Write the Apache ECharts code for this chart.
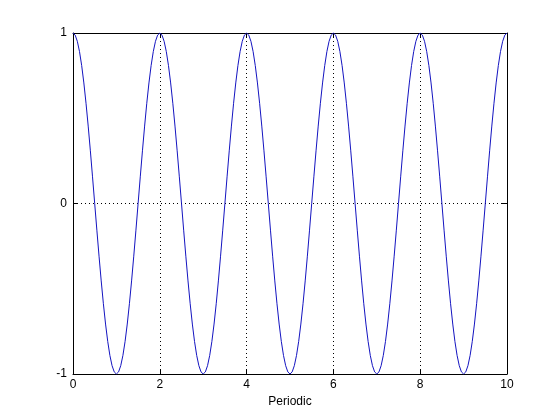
<!DOCTYPE html>
<html>
<head>
<meta charset="utf-8">
<script src="https://cdn.jsdelivr.net/npm/echarts@6/dist/echarts.min.js"></script>
<style>html,body{margin:0;padding:0;background:#fff}#c{width:560px;height:420px}</style>
</head>
<body>
<div id="c"></div>
<script>
var xs = [0,0.05,0.1,0.15,0.2,0.25,0.3,0.35,0.4,0.45,0.5,0.55,0.6,0.65,0.7,0.75,0.8,0.85,0.9,0.95,
1,1.05,1.1,1.15,1.2,1.25,1.3,1.35,1.4,1.45,1.5,1.55,1.6,1.65,1.7,1.75,1.8,1.85,1.9,1.95,
2,2.05,2.1,2.15,2.2,2.25,2.3,2.35,2.4,2.45,2.5,2.55,2.6,2.65,2.7,2.75,2.8,2.85,2.9,2.95,
3,3.05,3.1,3.15,3.2,3.25,3.3,3.35,3.4,3.45,3.5,3.55,3.6,3.65,3.7,3.75,3.8,3.85,3.9,3.95,
4,4.05,4.1,4.15,4.2,4.25,4.3,4.35,4.4,4.45,4.5,4.55,4.6,4.65,4.7,4.75,4.8,4.85,4.9,4.95,
5,5.05,5.1,5.15,5.2,5.25,5.3,5.35,5.4,5.45,5.5,5.55,5.6,5.65,5.7,5.75,5.8,5.85,5.9,5.95,
6,6.05,6.1,6.15,6.2,6.25,6.3,6.35,6.4,6.45,6.5,6.55,6.6,6.65,6.7,6.75,6.8,6.85,6.9,6.95,
7,7.05,7.1,7.15,7.2,7.25,7.3,7.35,7.4,7.45,7.5,7.55,7.6,7.65,7.7,7.75,7.8,7.85,7.9,7.95,
8,8.05,8.1,8.15,8.2,8.25,8.3,8.35,8.4,8.45,8.5,8.55,8.6,8.65,8.7,8.75,8.8,8.85,8.9,8.95,
9,9.05,9.1,9.15,9.2,9.25,9.3,9.35,9.4,9.45,9.5,9.55,9.6,9.65,9.7,9.75,9.8,9.85,9.9,9.95,10];

var ys = [1,0.9877,0.9511,0.891,0.809,0.7071,0.5878,0.454,0.309,0.1564,0,-0.1564,-0.309,-0.454,-0.5878,-0.7071,-0.809,-0.891,-0.9511,-0.9877,
-1,-0.9877,-0.9511,-0.891,-0.809,-0.7071,-0.5878,-0.454,-0.309,-0.1564,0,0.1564,0.309,0.454,0.5878,0.7071,0.809,0.891,0.9511,0.9877,
1,0.9877,0.9511,0.891,0.809,0.7071,0.5878,0.454,0.309,0.1564,0,-0.1564,-0.309,-0.454,-0.5878,-0.7071,-0.809,-0.891,-0.9511,-0.9877,
-1,-0.9877,-0.9511,-0.891,-0.809,-0.7071,-0.5878,-0.454,-0.309,-0.1564,0,0.1564,0.309,0.454,0.5878,0.7071,0.809,0.891,0.9511,0.9877,
1,0.9877,0.9511,0.891,0.809,0.7071,0.5878,0.454,0.309,0.1564,0,-0.1564,-0.309,-0.454,-0.5878,-0.7071,-0.809,-0.891,-0.9511,-0.9877,
-1,-0.9877,-0.9511,-0.891,-0.809,-0.7071,-0.5878,-0.454,-0.309,-0.1564,0,0.1564,0.309,0.454,0.5878,0.7071,0.809,0.891,0.9511,0.9877,
1,0.9877,0.9511,0.891,0.809,0.7071,0.5878,0.454,0.309,0.1564,0,-0.1564,-0.309,-0.454,-0.5878,-0.7071,-0.809,-0.891,-0.9511,-0.9877,
-1,-0.9877,-0.9511,-0.891,-0.809,-0.7071,-0.5878,-0.454,-0.309,-0.1564,0,0.1564,0.309,0.454,0.5878,0.7071,0.809,0.891,0.9511,0.9877,
1,0.9877,0.9511,0.891,0.809,0.7071,0.5878,0.454,0.309,0.1564,0,-0.1564,-0.309,-0.454,-0.5878,-0.7071,-0.809,-0.891,-0.9511,-0.9877,
-1,-0.9877,-0.9511,-0.891,-0.809,-0.7071,-0.5878,-0.454,-0.309,-0.1564,0,0.1564,0.309,0.454,0.5878,0.7071,0.809,0.891,0.9511,0.9877,1];

var xTicks = [0, 2, 4, 6, 8, 10];
var yTicks = [-1, 0, 1];
var xLabel = 'Periodic';

var font = 'Liberation Sans, Arial, Helvetica, sans-serif';
var pts = xs.map(function (x, i) { return [x, ys[i]]; });

var chart = echarts.init(document.getElementById('c'), null, {renderer: 'canvas'});
var axisBase = {
  type: 'value',
  axisLine: {show: true, onZero: false, lineStyle: {color: '#000', width: 1}},
  axisTick: {show: true, inside: true, length: 5, lineStyle: {color: '#000'}},
  splitLine: {show: false}
};
chart.setOption({
  animation: false,
  backgroundColor: '#fff',
  grid: {left: 73, right: 53, top: 33, bottom: 46, containLabel: false},
  xAxis: [
    Object.assign({}, axisBase, {
      min: xTicks[0], max: xTicks[xTicks.length - 1], interval: 2, position: 'bottom',
      name: xLabel, nameLocation: 'middle', nameGap: 22,
      nameTextStyle: {color: '#000', fontSize: 12, fontFamily: font},
      axisLabel: {color: '#000', fontSize: 12, fontFamily: font, margin: 5},
      splitLine: {show: true, lineStyle: {color: '#000', type: [1, 3], width: 1}}
    }),
    Object.assign({}, axisBase, {
      min: xTicks[0], max: xTicks[xTicks.length - 1], interval: 2, position: 'top',
      axisLabel: {show: false}
    })
  ],
  yAxis: [
    Object.assign({}, axisBase, {
      min: yTicks[0], max: yTicks[yTicks.length - 1], interval: 1, position: 'left',
      axisLabel: {color: '#000', fontSize: 12, fontFamily: font, margin: 6},
      splitLine: {show: true, lineStyle: {color: '#000', type: [1, 3], width: 1}}
    }),
    Object.assign({}, axisBase, {
      min: yTicks[0], max: yTicks[yTicks.length - 1], interval: 1, position: 'right',
      axisLabel: {show: false}
    })
  ],
  series: [{
    type: 'line',
    data: pts,
    xAxisIndex: 0, yAxisIndex: 0,
    showSymbol: false,
    smooth: false,
    lineStyle: {color: '#1414c0', width: 1},
    z: 3
  }]
});
</script>
</body>
</html>
